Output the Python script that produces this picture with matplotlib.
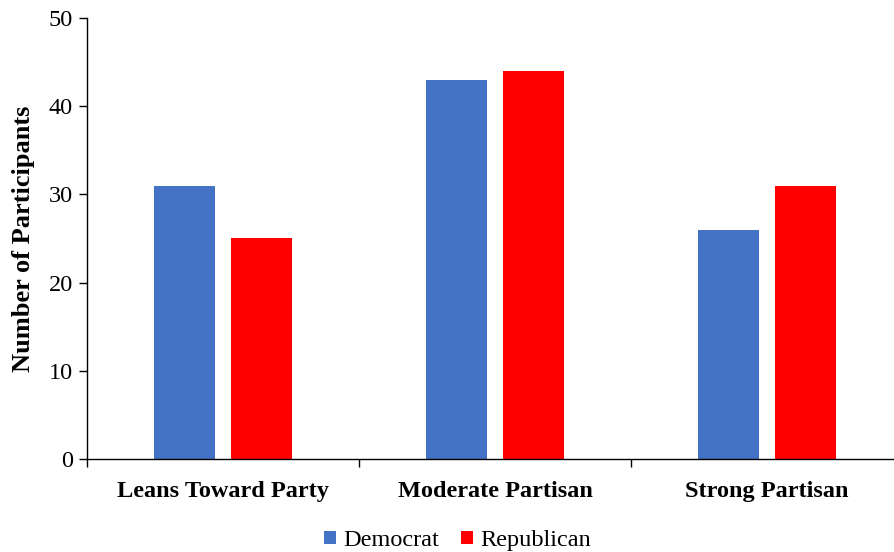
import numpy as np
import matplotlib
matplotlib.use("Agg")
import matplotlib.pyplot as plt

plt.rcParams['font.family'] = ['Liberation Serif', 'DejaVu Serif']

# participants by party strength
categories = ['Leans Toward Party', 'Moderate Partisan', 'Strong Partisan']
democrat = [31, 43, 26]
republican = [25, 44, 31]

fig = plt.figure(figsize=(8.94, 5.52), dpi=100)
ax = fig.add_axes([0.0973, 0.1685, 0.9027, 0.799])

x = np.arange(len(categories))
w = 0.224
ax.bar(x - 0.142, democrat, w, color='#4472C4', label='Democrat')
ax.bar(x + 0.142, republican, w, color='#FF0000', label='Republican')

ax.set_xlim(-0.5, 2.467)
ax.set_ylim(0, 50)
ax.set_yticks(range(0, 51, 10))
ax.tick_params(axis='y', labelsize=17.5, length=6, width=1, direction='out', pad=4)

ax.set_xticks(x)
ax.set_xticklabels(categories, fontsize=17.5, fontweight='bold')
ax.tick_params(axis='x', which='major', length=0, pad=16)
ax.set_xticks([-0.5, 0.5, 1.5], minor=True)
ax.tick_params(axis='x', which='minor', length=6, width=1, direction='out')

ax.spines['top'].set_visible(False)
ax.spines['right'].set_visible(False)
ax.spines['left'].set_linewidth(1)
ax.spines['bottom'].set_linewidth(1)

ax.set_ylabel('Number of Participants', fontsize=19, fontweight='bold', labelpad=10)

fig.legend(loc='lower center', bbox_to_anchor=(0.512, -0.038), ncol=2, frameon=False,
           fontsize=17.5, handlelength=0.5, handleheight=0.5, handletextpad=0.3,
           columnspacing=0.9)

fig.savefig('out.png', dpi=100)
